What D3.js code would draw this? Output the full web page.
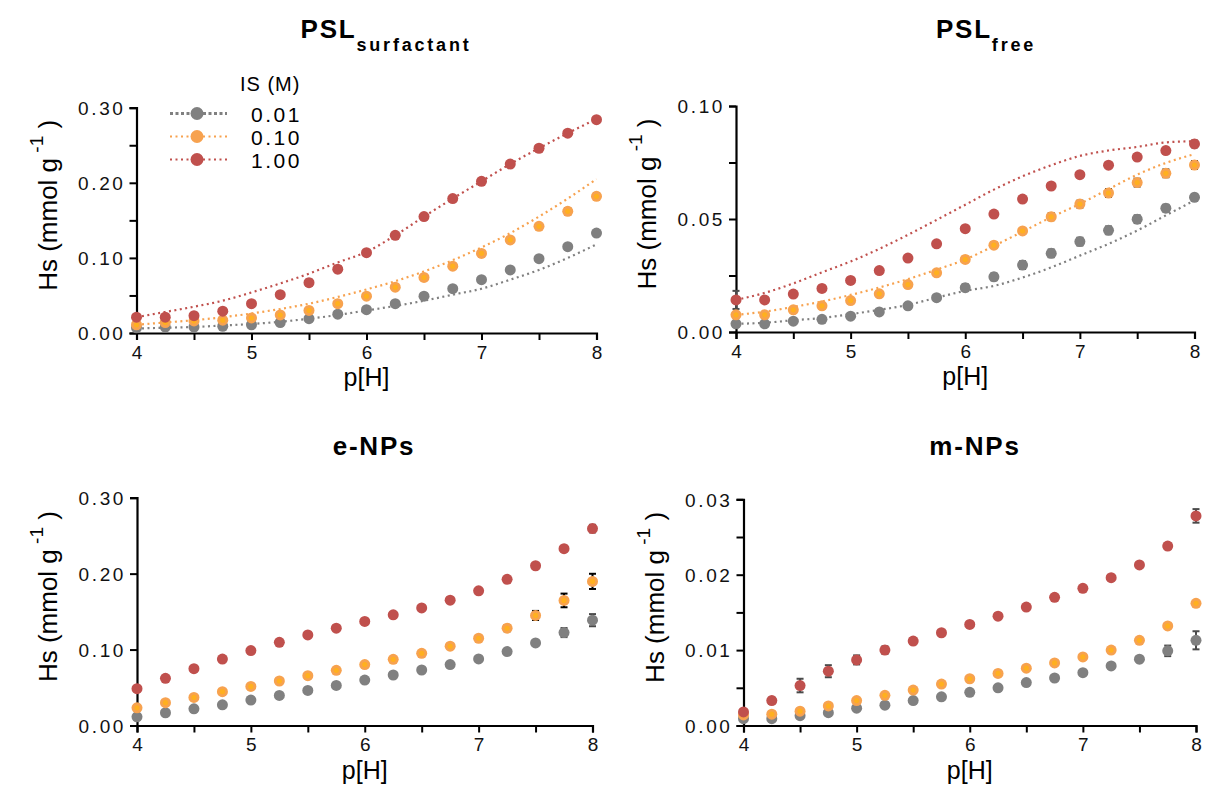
<!DOCTYPE html>
<html><head><meta charset="utf-8">
<script src="https://cdn.jsdelivr.net/npm/d3@7"></script>
<style>body{margin:0;background:#fff}svg{display:block;font-family:"Liberation Sans",Arial,sans-serif}</style>
</head><body><svg id="c" width="1208" height="791"></svg>
<script>
// ---------- DATA ----------
const pH = [4,4.25,4.5,4.75,5,5.25,5.5,5.75,6,6.25,6.5,6.75,7,7.25,7.5,7.75,8];
const ionicStrength = ["0.01","0.10","1.00"];

// PSL surfactant
const surf_001 = [0.007,0.008,0.008,0.009,0.011,0.014,0.019,0.025,0.031,0.039,0.049,0.059,0.071,0.084,0.099,0.115,0.133];
const surf_010 = [0.011,0.014,0.016,0.017,0.020,0.024,0.030,0.039,0.049,0.061,0.074,0.089,0.106,0.124,0.142,0.162,0.182];
const surf_100 = [0.021,0.021,0.023,0.029,0.039,0.051,0.067,0.085,0.107,0.130,0.155,0.179,0.202,0.225,0.246,0.266,0.284];
const surfErr_001 = [0,0,0,0,0,0,0,0,0,0,0,0,0,0,0,0,0.002];
const surfErr_010 = [0,0,0,0,0,0,0,0,0,0,0,0,0.002,0.003,0.003,0.004,0.004];
const surfErr_100 = [0,0,0,0,0,0,0.004,0.004,0.002,0,0,0,0,0,0,0,0];
const surfFit_001 = [0.006,0.007,0.008,0.010,0.012,0.015,0.019,0.024,0.030,0.036,0.043,0.051,0.059,0.071,0.084,0.100,0.118];
const surfFit_010 = [0.011,0.014,0.017,0.021,0.026,0.032,0.039,0.048,0.058,0.069,0.082,0.097,0.114,0.133,0.155,0.179,0.205];
const surfFit_100 = [0.021,0.028,0.035,0.043,0.054,0.066,0.079,0.094,0.108,0.130,0.155,0.179,0.202,0.225,0.246,0.266,0.285];

// PSL free
const free_001 = [0.0036,0.0036,0.0048,0.0056,0.0070,0.0089,0.0116,0.0152,0.0196,0.0244,0.0296,0.0348,0.0400,0.0450,0.0499,0.0548,0.0596];
const free_010 = [0.0076,0.0076,0.0098,0.0116,0.0139,0.0169,0.0210,0.0262,0.0321,0.0384,0.0447,0.0510,0.0566,0.0615,0.0661,0.0702,0.0739];
const free_100 = [0.0142,0.0142,0.0168,0.0193,0.0228,0.0272,0.0327,0.0390,0.0457,0.0522,0.0588,0.0646,0.0696,0.0738,0.0774,0.0803,0.0832];
const freeErr_001 = [0,0,0,0,0,0,0,0.0012,0.0015,0.0015,0.0017,0.0017,0.0017,0.0017,0.0017,0.0015,0.0015];
const freeErr_010 = [0,0,0,0,0,0,0,0,0.001,0.0012,0.0012,0.0015,0.0015,0.0017,0.0017,0.0017,0.0017];
const freeErr_100 = [0.004,0,0,0,0,0,0,0,0,0,0,0,0.001,0.0012,0.0012,0.0012,0.0015];
const freeFit_001 = [0.0036,0.0041,0.0052,0.0062,0.0079,0.0098,0.0120,0.0152,0.0182,0.0204,0.0241,0.0286,0.0338,0.0390,0.0449,0.0516,0.0582];
const freeFit_010 = [0.0076,0.0090,0.0111,0.0135,0.0164,0.0197,0.0234,0.0276,0.0321,0.0381,0.0444,0.0508,0.0567,0.0632,0.0696,0.0748,0.0787];
const freeFit_100 = [0.0142,0.0173,0.0215,0.0264,0.0312,0.0368,0.0430,0.0496,0.0563,0.0630,0.0689,0.0738,0.0779,0.0803,0.0819,0.0839,0.0844];

// e-NPs
const eNP_001 = [0.0115,0.0168,0.0220,0.0273,0.0335,0.0396,0.0462,0.0528,0.0599,0.0665,0.0731,0.0802,0.0876,0.0973,0.1087,0.1224,0.1387];
const eNP_010 = [0.0233,0.0300,0.0370,0.0445,0.0515,0.0586,0.0656,0.0727,0.0802,0.0872,0.0951,0.1044,0.1149,0.1281,0.1449,0.1647,0.1898];
const eNP_100 = [0.0485,0.0621,0.0749,0.0875,0.0987,0.1096,0.1193,0.1281,0.1370,0.1457,0.1549,0.1651,0.1774,0.1925,0.2104,0.2329,0.2593];
const eNPErr_001 = [0,0,0,0,0,0,0,0,0,0,0,0,0,0,0.003,0.006,0.008];
const eNPErr_010 = [0,0,0,0,0,0,0,0,0,0,0,0,0.003,0.004,0.006,0.009,0.010];
const eNPErr_100 = [0,0,0,0,0,0,0,0,0,0,0,0,0,0,0,0,0.005];

// m-NPs
const mNP_001 = [0.0009,0.0009,0.0013,0.0017,0.0023,0.0027,0.0033,0.0038,0.0044,0.0050,0.0057,0.0063,0.0070,0.0079,0.0088,0.0099,0.0113];
const mNP_010 = [0.0014,0.0015,0.0019,0.0026,0.0033,0.0040,0.0047,0.0055,0.0062,0.0069,0.0076,0.0083,0.0091,0.0100,0.0113,0.0132,0.0162];
const mNP_100 = [0.0018,0.0033,0.0053,0.0072,0.0087,0.0100,0.0112,0.0123,0.0134,0.0145,0.0157,0.0170,0.0182,0.0196,0.0213,0.0238,0.0278];
const mNPErr_001 = [0,0,0,0,0,0,0,0,0,0,0,0,0,0,0.0004,0.0007,0.0012];
const mNPErr_010 = [0,0,0,0,0,0,0,0,0,0,0,0,0,0,0,0,0];
const mNPErr_100 = [0,0.0004,0.0009,0.0008,0.0006,0.0005,0.0004,0,0,0,0,0,0,0,0,0.0004,0.0009];

const xTickValues = [4,4.5,5,5.5,6,6.5,7,7.5,8];
const xTickLabels = ["4","","5","","6","","7","","8"];

// ---------- STYLE ----------
const colors = ["#808080","#f7a24f","#c0504d"];
const errColors = ["#4a4a4a","#000","#4a4a4a"];

const panels = [
  {title:"PSL", sub:"surfactant", tx:386, ty:38, x0:136.5, x1:596.5, y0:333, y1:107.7, ymax:0.30, yStep:0.05, yLabStep:0.10,
   vals:[surf_001,surf_010,surf_100], errs:[surfErr_001,surfErr_010,surfErr_100], fits:[surfFit_001,surfFit_010,surfFit_100], legend:true},
  {title:"PSL", sub:"free", tx:986, ty:38, x0:736, x1:1194.5, y0:332, y1:106, ymax:0.10, yStep:0.025, yLabStep:0.05,
   vals:[free_001,free_010,free_100], errs:[freeErr_001,freeErr_010,freeErr_100], fits:[freeFit_001,freeFit_010,freeFit_100]},
  {title:"e-NPs", tx:374, ty:455, x0:137, x1:592.5, y0:725.5, y1:497.7, ymax:0.30, yStep:0.10, yLabStep:0.10,
   vals:[eNP_001,eNP_010,eNP_100], errs:[eNPErr_001,eNPErr_010,eNPErr_100]},
  {title:"m-NPs", tx:975, ty:455, x0:743.5, x1:1196, y0:725.5, y1:499.3, ymax:0.03, yStep:0.005, yLabStep:0.01,
   vals:[mNP_001,mNP_010,mNP_100], errs:[mNPErr_001,mNPErr_010,mNPErr_100]}
];

const svg = d3.select("#c");

panels.forEach(p => {
  const x = d3.scaleLinear().domain([4,8]).range([p.x0,p.x1]);
  const y = d3.scaleLinear().domain([0,p.ymax]).range([p.y0,p.y1]);
  const g = svg.append("g");

  // title
  const t = g.append("text").attr("x",p.tx).attr("y",p.ty).attr("text-anchor","middle")
    .attr("font-weight","bold").attr("font-size",26).attr("letter-spacing",1.8).text(p.title);
  if (p.sub) t.append("tspan").attr("dy",13).attr("font-size",18).attr("letter-spacing",2.8).text(p.sub);

  // axes
  const nY = Math.round(p.ymax/p.yStep);
  const yTicks = d3.range(nY+1).map(i=>+(i*p.yStep).toFixed(4));
  const yAxis = d3.axisLeft(y).tickValues(yTicks).tickSize(7).tickPadding(4)
    .tickFormat(d => Math.abs(d/p.yLabStep - Math.round(d/p.yLabStep))<1e-6 ? d3.format(".2f")(d) : "");
  const ya = g.append("g").attr("transform",`translate(${p.x0},0)`).call(yAxis);
  const xAxis = d3.axisBottom(x).tickValues(xTickValues).tickSize(7).tickPadding(4)
    .tickFormat((d,i)=>xTickLabels[i]);
  const xa = g.append("g").attr("transform",`translate(0,${p.y0})`).call(xAxis);
  [ya,xa].forEach(a=>{
    a.select(".domain").attr("stroke","#000").attr("stroke-width",2.2);
    a.selectAll(".tick line").attr("stroke","#000").attr("stroke-width",2);
    a.selectAll(".tick text").attr("fill","#111").attr("font-size",19).attr("font-family","Liberation Sans, Arial, sans-serif");
  });
  ya.selectAll(".tick text").attr("letter-spacing",2.6).attr("dy","0.36em");
  xa.selectAll(".tick text").attr("dy","0.78em");

  // axis titles
  g.append("text").attr("x",(p.x0+p.x1)/2).attr("y",p.y0+53).attr("text-anchor","middle")
    .attr("font-size",25).text("p[H]");
  const yl = g.append("text").attr("transform",`translate(${p.x0-80},${(p.y0+p.y1)/2 - 15}) rotate(-90)`)
    .attr("text-anchor","middle").attr("font-size",26).text("Hs (mmol g");
  yl.append("tspan").attr("dy",-14).attr("font-size",19).text(" -1");
  yl.append("tspan").attr("dy",14).text("  )");

  // fits
  if (p.fits) {
    const line = d3.line().x((d,i)=>x(pH[i])).y(d=>y(d)).curve(d3.curveMonotoneX);
    p.fits.forEach((f,k)=>{
      g.append("path").datum(f).attr("d",line).attr("fill","none").attr("stroke",colors[k])
        .attr("stroke-width",2.2).attr("stroke-dasharray","2,3.5").attr("stroke-linecap","butt");
    });
  }

  // error bars + points
  p.vals.forEach((vals,k)=>{
    const eg = g.append("g");
    vals.forEach((v,i)=>{
      const e = p.errs[k][i];
      if (e>0) {
        const cx = x(pH[i]);
        eg.append("line").attr("x1",cx).attr("x2",cx).attr("y1",y(v-e)).attr("y2",y(v+e)).attr("stroke",errColors[k]).attr("stroke-width",2);
        [v-e,v+e].forEach(w=>eg.append("line").attr("x1",cx-3.5).attr("x2",cx+3.5).attr("y1",y(w)).attr("y2",y(w)).attr("stroke",errColors[k]).attr("stroke-width",2));
      }
    });
  });
  p.vals.forEach((vals,k)=>{
    const pg = g.append("g");
    pg.selectAll("circle").data(vals).join("circle")
      .attr("cx",(d,i)=>x(pH[i])).attr("cy",d=>y(d)).attr("r",5.5).attr("fill",colors[k]);
    if (k===1) pg.selectAll("circle.in").data(vals).join("circle").attr("class","in")
      .attr("cx",(d,i)=>x(pH[i])).attr("cy",d=>y(d)).attr("r",2.6).attr("fill","#ffb01f");
  });

  // legend
  if (p.legend) {
    const lg = g.append("g");
    lg.append("text").attr("x",240).attr("y",91).attr("font-size",20).attr("letter-spacing",1).text("IS (M)");
    ionicStrength.forEach((s,k)=>{
      const ly = 113.5 + k*23;
      lg.append("line").attr("x1",170).attr("x2",227).attr("y1",ly).attr("y2",ly).attr("stroke",colors[k])
        .attr("stroke-width",k===0?3:2.2).attr("stroke-dasharray",k===0?"3,2.5":"2,3.5");
      lg.append("circle").attr("cx",197).attr("cy",ly).attr("r",6.5).attr("fill",colors[k]);
      lg.append("text").attr("x",251).attr("y",ly+8).attr("font-size",21).attr("letter-spacing",2.5).text(s);
    });
  }
});
</script></body></html>
